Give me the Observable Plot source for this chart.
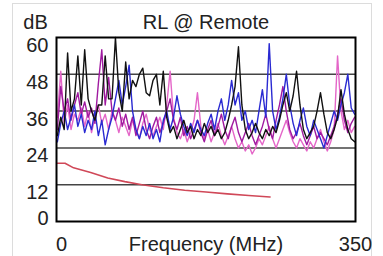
<!DOCTYPE html>
<html>
<head>
<meta charset="utf-8">
<script src="https://cdn.jsdelivr.net/npm/d3@7"></script>
<script src="https://cdn.jsdelivr.net/npm/@observablehq/plot@0.6"></script>
<style>
  html, body { margin: 0; padding: 0; background: #fff; }
  #wrap { position: relative; width: 383px; height: 256px; overflow: hidden; }
  #border { position: absolute; left: 12px; top: 3px; width: 360px; height: 260px; border: 1px solid #dcdcdc; box-sizing: border-box; }
  #chart { position: absolute; left: 0; top: 0; }
</style>
</head>
<body>
<div id="wrap"><div id="border"></div><div id="chart"></div></div>
<script>
const freq = [1,5,9,13,17,21,25,29,33,37,41,45,49,53,57,61,65,69,73,77,81,85,89,93,97,101,105,109,113,117,121,125,129,133,137,141,145,149,153,157,161,165,169,173,177,181,185,189,193,197,201,205,209,213,217,221,225,229,233,237,241,245,249,253,257,261,265,269,273,277,281,285,289,293,297,301,305,309,313,317,321,325,329,333,337,341,345,349];

const blackRL = [28,34,30,55,36,40,54,38,56,40, 36,33,38,38,54,40,40,60,42,36, 52,40,46,44,48,50,42,41,46,48, 38,49,34,29,31,27,30,33,29,31, 27,30,28,32,29,31,28,30,27,29, 33,38,44,57,38,30,27,29,32,29, 27,30,28,31,29,33,38,42,36,41, 49,38,30,27,29,31,36,42,35,29, 27,30,34,43,35,30,27,26];
const blueRL = [26,32,36,30,34,38,31,35,29,33, 30,36,28,33,25,30,34,40,46,38, 44,51,36,30,27,31,28,32,27,30, 26,33,36,30,34,41,35,31,28,32, 29,33,30,28,32,35,30,36,40,33, 38,46,38,42,33,36,30,33,29,36, 43,34,58,36,30,34,40,48,38,32, 28,33,37,31,28,33,30,27,24,28, 32,36,33,38,42,48,37,35];
const purpleRL = [30,44,36,40,33,38,42,35,39,34, 37,32,45,56,38,47,36,33,37,31, 35,30,34,28,32,36,30,27,31,34, 29,32,36,40,33,30,34,28,31,27, 30,33,29,26,30,33,28,31,35,30, 27,31,34,29,26,29,32,28,25,28, 31,35,30,27,33,38,44,36,30,27, 29,32,28,25,28,31,27,29,27,25, 28,31,35,40,33,29,32,34];
const pinkRL = [34,49,32,38,30,35,33,37,31,36, 29,34,38,32,35,30,36,33,29,34, 31,28,33,30,27,32,35,30,28,31, 34,30,38,49,34,29,27,30,26,29, 33,42,31,27,30,26,29,32,28,25, 28,31,27,24,26,23,25,22,24,27, 25,28,31,27,24,27,30,33,29,26, 24,27,25,23,26,24,27,30,26,23, 26,30,54,36,30,33,29,31];

const limitFreq = [1,10,20,40,60,80,100,125,150,175,200,225,250];
const limitRL = [19,19,17.5,16,14.2,13,12,11,10.2,9.6,9,8.5,8];

const yTicks = [12,24,36,48,60];
const xTicks = [0,350];
const title = "RL @ Remote";
const yUnit = "dB";
const xTitle = "Frequency (MHz)";

const series = [
  {name: "pink", values: pinkRL, color: "#e466c8"},
  {name: "purple", values: purpleRL, color: "#a01aa0"},
  {name: "blue", values: blueRL, color: "#2a2ad2"},
  {name: "black", values: blackRL, color: "#111111"}
];

const lineMarks = series.map(s =>
  Plot.line(freq.map((f, i) => ({f, v: s.values[i]})), {x: "f", y: "v", stroke: s.color, strokeWidth: 1.4})
);
const limitData = limitFreq.map((f, i) => ({f, v: limitRL[i]}));

const chart = Plot.plot({
  width: 383,
  height: 256,
  marginLeft: 56,
  marginRight: 28,
  marginTop: 37,
  marginBottom: 35,
  style: {fontFamily: "'Liberation Sans', Arial, sans-serif", fontSize: "20px", color: "#222", background: "transparent"},
  x: {domain: [0, 350]},
  y: {domain: [0, 60]},
  marks: [
    Plot.gridY([12,24,36,48], {stroke: "#444", strokeOpacity: 1, strokeWidth: 1.5}),
    ...lineMarks,
    Plot.line(limitData, {x: "f", y: "v", stroke: "#d04858", strokeWidth: 1.6}),
    Plot.frame({stroke: "#000", strokeWidth: 2}),
    Plot.axisY({ticks: yTicks, tickSize: 0, tickPadding: 8, dy: 8, label: null, fontSize: 20}),
    Plot.axisY({ticks: [0], tickSize: 0, tickPadding: 8, dy: -3, label: null, fontSize: 20}),
    Plot.axisX({ticks: [xTicks[0]], tickSize: 0, tickPadding: 15, dx: 5, label: null, fontSize: 20}),
    Plot.axisX({ticks: [xTicks[1]], tickSize: 0, tickPadding: 15, label: null, fontSize: 20}),
    Plot.text([title], {frameAnchor: "top", lineAnchor: "middle", dy: -15, fontSize: 20, fill: "#222"}),
    Plot.text([yUnit], {frameAnchor: "top-left", lineAnchor: "middle", dx: -21, dy: -15, textAnchor: "middle", fontSize: 20, fill: "#222"}),
    Plot.text([xTitle], {frameAnchor: "bottom", lineAnchor: "middle", dy: 23, fontSize: 20, fill: "#222"})
  ]
});
document.getElementById("chart").appendChild(chart);
</script>
</body>
</html>
